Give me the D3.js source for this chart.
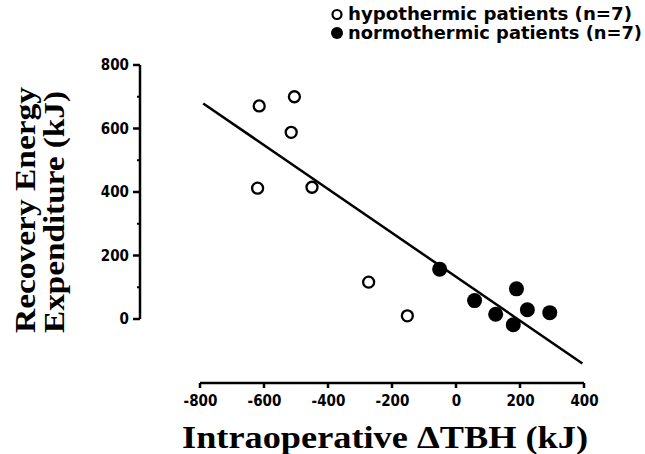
<!DOCTYPE html>
<html lang="en">
  <head>
    <meta charset="utf-8">
    <title>Recovery Energy Expenditure vs Intraoperative TBH</title>
    <script src="https://d3js.org/d3.v7.js"></script>
  </head>
  <body style="margin:0">
    <svg></svg>
  <script>

// Data (kJ)

  var hypoX = [-615, -505, -515, -620, -450, -273, -152];
  var hypoY = [671, 700, 588, 412, 415, 116, 10];

  var normoX = [-51, 58, 124, 179, 189, 223, 293];
  var normoY = [157, 58, 15, -18, 95, 29, 20];

  // regression line end points
  var fitX = [-790, 395];
  var fitY = [679, -140];

  var xTicks = [-800, -600, -400, -200, 0, 200, 400];
  var yTicks = [0, 200, 400, 600, 800];
  var yMinor = [100, 300, 500, 700];

  var legendLabels = ["hypothermic patients (n=7)", "normothermic patients (n=7)"];

  var w = 645;
  var h = 454;

  var svg = d3.select("svg")
      .attr("width", w)
      .attr("height", h);

  var xScale = d3.scaleLinear()
      .domain([-800, 400])
      .range([200, 584]);

  var yScale = d3.scaleLinear()
      .domain([0, 800])
      .range([319, 65]);

  var tickFont = "'DejaVu Sans Condensed', 'DejaVu Sans', sans-serif";
  var labelFont = "'Liberation Serif', 'Times New Roman', serif";

  var x0 = 140, y0 = 383;   // axis positions

// Axis tick labels from d3.axis

  var xAxis = d3.axisBottom(xScale)
      .tickValues(xTicks)
      .tickSize(5)
      .tickSizeOuter(0)
      .tickPadding(7)
      .tickFormat(d => d);

  var yAxis = d3.axisLeft(yScale)
      .tickValues(yTicks)
      .tickSize(7)
      .tickSizeOuter(0)
      .tickPadding(4)
      .tickFormat(d => d);

  var gx = svg.append("g")
      .attr("class", "xAxis")
      .attr("transform", `translate(0, ${y0})`)
      .call(xAxis);

  var gy = svg.append("g")
      .attr("class", "yAxis")
      .attr("transform", `translate(${x0}, 0)`)
      .call(yAxis);

  [gx, gy].forEach(function(g) {
    g.selectAll("path, line").remove();
    g.selectAll("text")
        .attr("fill", "#000")
        .style("font-family", tickFont)
        .style("font-weight", "bold")
        .style("font-size", "15px");
  });

// Regression line

  svg.append("line")
      .attr("x1", xScale(fitX[0]))
      .attr("y1", yScale(fitY[0]))
      .attr("x2", xScale(fitX[1]))
      .attr("y2", yScale(fitY[1]))
      .attr("stroke", "#000")
      .attr("stroke-width", 2.5);

// Points

  svg.append("g").selectAll("circle")
      .data(d3.range(hypoX.length))
      .enter().append("circle")
      .attr("cx", i => xScale(hypoX[i]))
      .attr("cy", i => yScale(hypoY[i]))
      .attr("r", 5.5)
      .attr("fill", "#fff")
      .attr("stroke", "#000")
      .attr("stroke-width", 2.3);

  svg.append("g").selectAll("circle")
      .data(d3.range(normoX.length))
      .enter().append("circle")
      .attr("cx", i => xScale(normoX[i]))
      .attr("cy", i => yScale(normoY[i]))
      .attr("r", 7.5)
      .attr("fill", "#000");

// Legend

  var legend = svg.append("g");

  legend.append("circle")
      .attr("cx", 337).attr("cy", 14.5).attr("r", 4.5)
      .attr("fill", "#fff").attr("stroke", "#000").attr("stroke-width", 2.2);

  legend.append("circle")
      .attr("cx", 337).attr("cy", 33).attr("r", 6)
      .attr("fill", "#000");

  legend.selectAll("text")
      .data(legendLabels)
      .enter().append("text")
      .attr("x", 348)
      .attr("y", (d, i) => 20 + i * 19)
      .attr("textLength", (d, i) => i === 0 ? 284 : 294)
      .attr("lengthAdjust", "spacingAndGlyphs")
      .style("font-family", tickFont)
      .style("font-weight", "bold")
      .style("font-size", "17px")
      .text(d => d);

// Axis titles

  svg.append("text")
      .attr("x", 182)
      .attr("y", 448)
      .attr("textLength", 406)
      .attr("lengthAdjust", "spacingAndGlyphs")
      .style("font-family", labelFont)
      .style("font-weight", "bold")
      .style("font-size", "31px")
      .text("Intraoperative  \u0394TBH  (kJ)");

  var ylab = svg.append("g")
      .attr("transform", "translate(0, 333) rotate(-90)");

  ylab.append("text")
      .attr("x", 0)
      .attr("y", 35)
      .attr("textLength", 246)
      .attr("lengthAdjust", "spacingAndGlyphs")
      .style("font-family", labelFont)
      .style("font-weight", "bold")
      .style("font-size", "30px")
      .text("Recovery  Energy");

  ylab.append("text")
      .attr("x", 0)
      .attr("y", 64)
      .attr("textLength", 242)
      .attr("lengthAdjust", "spacingAndGlyphs")
      .style("font-family", labelFont)
      .style("font-weight", "bold")
      .style("font-size", "30px")
      .text("Expenditure  (kJ)");

// Axis strokes, drawn last as plain elements on the svg

  svg.append("path")
      .attr("d", `M${xScale(-800)},${y0}H${xScale(400)}`)
      .attr("fill", "none")
      .attr("stroke", "#000")
      .attr("stroke-width", 2.5);

  xTicks.forEach(function(t) {
    svg.append("line")
        .attr("x1", xScale(t)).attr("x2", xScale(t))
        .attr("y1", y0).attr("y2", y0 + 5)
        .attr("stroke", "#000")
        .attr("stroke-width", 2.5);
  });

  svg.append("line")
      .attr("x1", x0).attr("x2", x0)
      .attr("y1", yScale(0)).attr("y2", yScale(800))
      .attr("stroke", "#000")
      .attr("stroke-width", 2.5);

  yTicks.forEach(function(t) {
    svg.append("line")
        .attr("x1", x0 - 7).attr("x2", x0)
        .attr("y1", yScale(t)).attr("y2", yScale(t))
        .attr("stroke", "#000")
        .attr("stroke-width", 2.5);
  });

  yMinor.forEach(function(t) {
    svg.append("line")
        .attr("x1", x0 - 3).attr("x2", x0)
        .attr("y1", yScale(t)).attr("y2", yScale(t))
        .attr("stroke", "#000")
        .attr("stroke-width", 2);
  });

    </script>
  </body>
</html>
